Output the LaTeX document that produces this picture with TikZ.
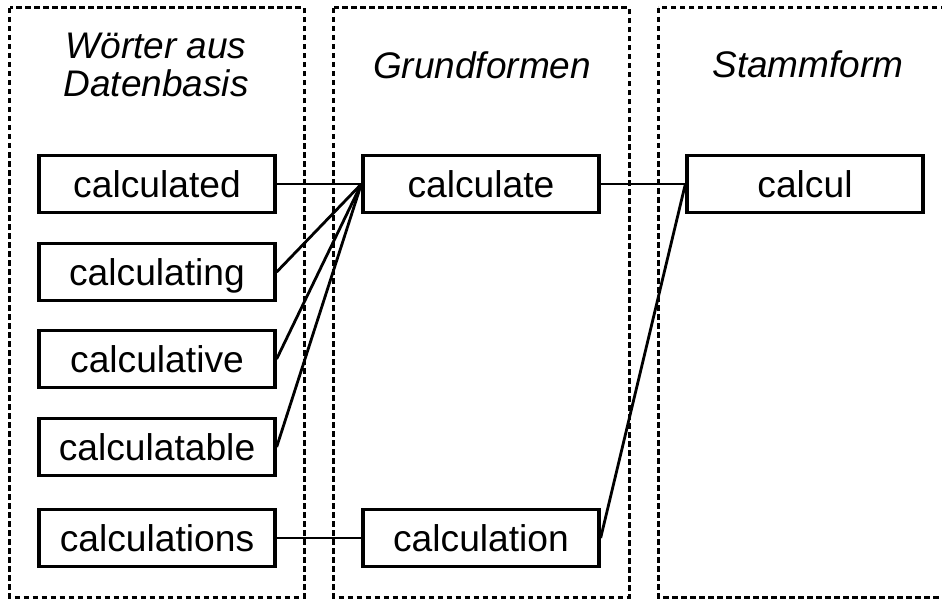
\documentclass[tikz,border=0pt]{standalone}
\usepackage{fontspec}
\setmainfont{Liberation Sans}
\begin{document}
\begin{tikzpicture}[x=1pt,y=-1pt,
  frame/.style={line width=3pt, dash pattern=on 5.5pt off 3.5pt},
  word/.style={draw, line width=3.3pt, rectangle, minimum width=236pt,
    minimum height=57pt, inner sep=0pt, text height=27pt, text depth=0pt,
    font=\fontsize{37.2}{44}\selectfont},
  head/.style={anchor=base, inner sep=0pt,
    font=\fontsize{37}{44}\selectfont\itshape},
  link/.style={line width=2.8pt}]
\useasboundingbox (0,0) rectangle (942,599);
\begin{scope}
\clip (0,0) rectangle (942,599);
% column frames
\draw[frame] (9.5,8) rectangle (304,597);
\draw[frame] (333.5,8) rectangle (629,597);
\draw[frame] (658,8) rectangle (960,597);
\end{scope}
% column titles
\node[head] (h1a) at (156,59) {Wörter aus};
\node[head] (h1b) at (156,97) {Datenbasis};
\node[head] (h2) at (482,79) {Grundformen};
\node[head] (h3) at (808,78) {Stammform};
% word forms
\node[word] (w1) at (157,184) {calculated};
\node[word] (w2) at (157,272) {calculating};
\node[word] (w3) at (157,359) {calculative};
\node[word] (w4) at (157,447) {calculatable};
\node[word] (w5) at (157,538) {calculations};
% base forms
\node[word] (g1) at (481,184) {calculate};
\node[word] (g2) at (481,538) {calculation};
% stem
\node[word] (s1) at (805,184) {calcul};
% connectors
\draw[link] (w1.east) -- (g1.west);
\draw[link] (w2.east) -- (g1.west);
\draw[link] (w3.east) -- (g1.west);
\draw[link] (w4.east) -- (g1.west);
\draw[link] (w5.east) -- (g2.west);
\draw[link] (g1.east) -- (s1.west);
\draw[link] (g2.east) -- (s1.west);
\end{tikzpicture}
\end{document}
